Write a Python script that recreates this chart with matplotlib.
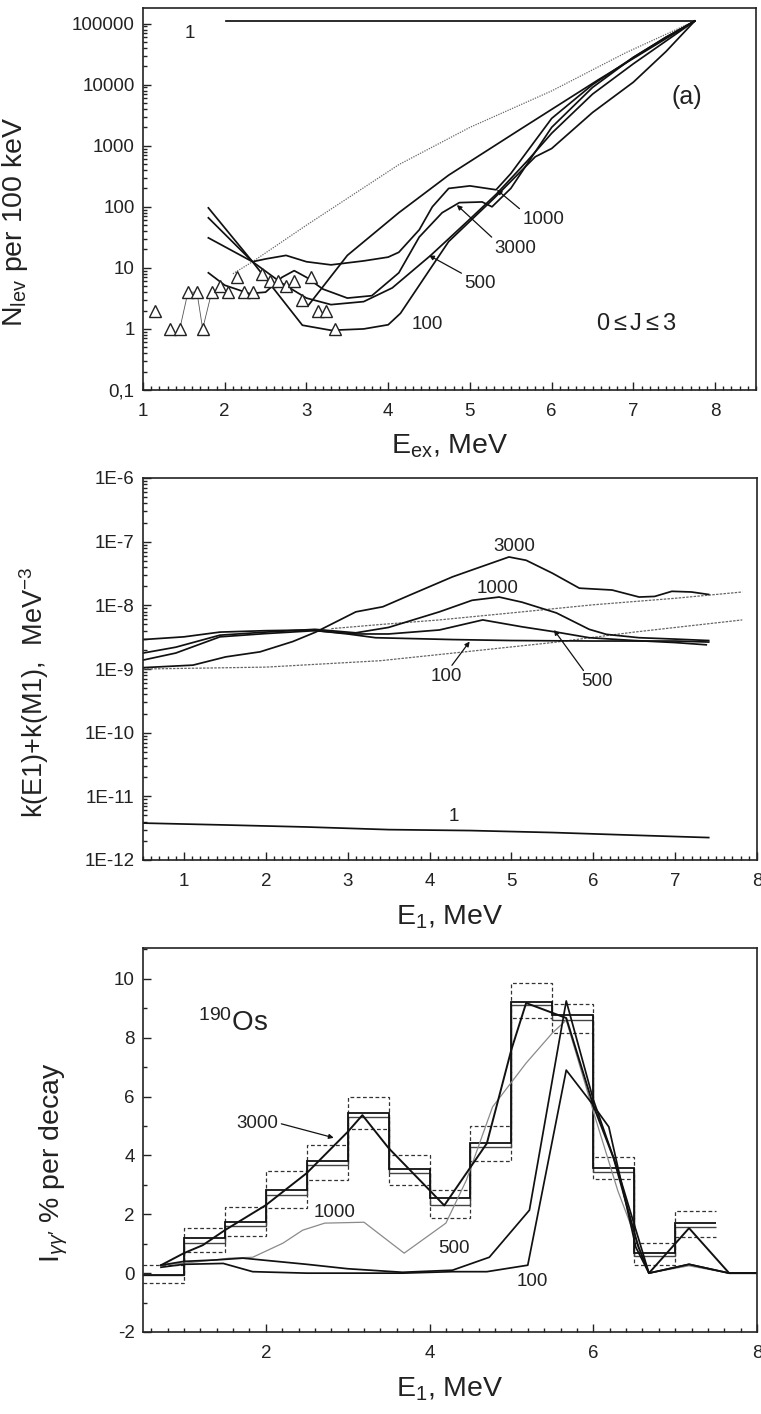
import matplotlib
matplotlib.use('Agg')
import matplotlib.pyplot as plt
from matplotlib.ticker import MultipleLocator, LogLocator, NullFormatter

plt.rcParams['font.family'] = ['Liberation Sans', 'DejaVu Sans']
plt.rcParams['mathtext.fontset'] = 'custom'
plt.rcParams['mathtext.rm'] = 'Liberation Sans'
plt.rcParams['mathtext.it'] = 'Liberation Sans:italic'
plt.rcParams['axes.unicode_minus'] = False

# ---------- panel (a): level density ----------
one_x = [2.02, 7.75]
one_y = [1.1e5, 1.1e5]

dot_x = [2.1, 2.34, 3.0, 4.13, 5.0, 6.0, 6.9, 7.75]
dot_y = [8, 12.6, 50, 490, 2000, 7900, 33000, 1.1e5]

bsfg_x = [3.02, 3.5, 4.13, 4.74, 5.6, 6.57, 7.75]
bsfg_y = [2.4, 16, 80, 330, 1800, 12000, 1.1e5]

n100_x = [1.8, 2.34, 2.95, 3.3, 3.7, 4.0, 4.15, 4.5, 4.74, 5.3, 5.8, 6.0, 6.5, 7.0, 7.4, 7.75]
n100_y = [96, 12.6, 1.15, 0.95, 1.0, 1.17, 1.8, 9, 27, 140, 660, 900, 3500, 11000, 35000, 1.1e5]

n500_x = [1.8, 2.34, 2.7, 3.0, 3.3, 3.7, 4.05, 4.52, 5.0, 5.32, 5.7, 6.0, 6.5, 7.0, 7.4, 7.75]
n500_y = [66, 12.6, 5.6, 3.2, 2.5, 2.8, 4.7, 16, 63, 160, 560, 1600, 7000, 22000, 52000, 1.1e5]

n1000_x = [1.8, 2.34, 2.5, 2.75, 3.0, 3.3, 3.7, 4.0, 4.13, 4.38, 4.54, 4.74, 5.0, 5.32, 5.5,
           6.0, 6.5, 7.0, 7.4, 7.75]
n1000_y = [31, 12.6, 14, 16, 12.6, 11.2, 13, 15, 18, 42, 100, 200, 220, 190, 350,
           2800, 10000, 28000, 60000, 1.1e5]

n3000_x = [1.8, 2.0, 2.3, 2.5, 2.7, 2.85, 3.0, 3.2, 3.5, 3.8, 4.13, 4.38, 4.66, 4.87, 5.15,
           5.27, 5.5, 6.0, 6.5, 7.0, 7.4, 7.75]
n3000_y = [8.3, 5.2, 3.8, 4, 7, 9, 7, 4.5, 3.2, 3.5, 8.3, 32, 80, 117, 120,
           100, 200, 2000, 9000, 28000, 60000, 1.1e5]

tri_x = [1.15, 1.33, 1.45, 1.55, 1.66, 1.73, 1.84, 1.94, 2.04, 2.15, 2.24, 2.34, 2.45, 2.55,
         2.65, 2.75, 2.85, 2.95, 3.06, 3.14, 3.24, 3.35]
tri_y = [2, 1, 1, 4, 4, 1, 4, 5, 4, 7, 4, 4, 8, 6, 6, 5, 6, 3, 7, 2, 2, 1]

# ---------- panel (b): strength functions ----------
k1_x = [0.5, 1.5, 2.5, 3.5, 4.5, 5.5, 6.5, 7.41]
k1_y = [3.8e-12, 3.55e-12, 3.3e-12, 3.0e-12, 2.9e-12, 2.7e-12, 2.45e-12, 2.25e-12]

kdl_x = [0.5, 2.0, 3.4, 4.5, 5.5, 6.5, 7.82]
kdl_y = [1.0e-9, 1.07e-9, 1.35e-9, 1.9e-9, 2.6e-9, 3.8e-9, 5.9e-9]

kdh_x = [2.8, 3.4, 4.12, 5.0, 6.0, 7.0, 7.82]
kdh_y = [4.3e-9, 5.0e-9, 5.9e-9, 7.6e-9, 1.02e-8, 1.29e-8, 1.62e-8]

k100_x = [0.5, 1.0, 1.44, 2.0, 2.54, 3.0, 3.34, 4.28, 5.0, 6.0, 7.0, 7.41]
k100_y = [2.9e-9, 3.2e-9, 3.8e-9, 4.0e-9, 4.1e-9, 3.55e-9, 3.1e-9, 2.9e-9, 2.8e-9, 2.75e-9,
          2.75e-9, 2.65e-9]

k500_x = [0.5, 0.9, 1.44, 2.0, 2.6, 3.1, 3.5, 4.12, 4.65, 5.13, 5.55, 5.95, 6.5, 7.0, 7.38]
k500_y = [1.38e-9, 1.78e-9, 3.2e-9, 3.6e-9, 4.0e-9, 3.55e-9, 3.55e-9, 4.1e-9, 5.9e-9, 4.6e-9,
          3.8e-9, 3.1e-9, 2.8e-9, 2.6e-9, 2.4e-9]

k1000_x = [0.5, 0.9, 1.44, 2.0, 2.6, 3.1, 3.5, 4.12, 4.52, 4.85, 5.13, 5.55, 5.95, 6.16, 6.56,
           7.0, 7.41]
k1000_y = [1.78e-9, 2.2e-9, 3.4e-9, 3.8e-9, 4.2e-9, 3.7e-9, 4.5e-9, 7.9e-9, 1.2e-8, 1.35e-8,
           1.12e-8, 7.6e-9, 4.2e-9, 3.5e-9, 3.1e-9, 2.95e-9, 2.8e-9]

k3000_x = [0.5, 1.11, 1.51, 1.93, 2.33, 2.61, 3.1, 3.43, 3.76, 4.28, 4.52, 4.97, 5.18, 5.5,
           5.83, 6.23, 6.56, 6.75, 6.96, 7.2, 7.41]
k3000_y = [1.05e-9, 1.15e-9, 1.55e-9, 1.86e-9, 2.7e-9, 3.8e-9, 7.9e-9, 9.5e-9, 1.45e-8, 2.8e-8,
           3.6e-8, 5.75e-8, 5.1e-8, 3.2e-8, 1.86e-8, 1.74e-8, 1.35e-8, 1.38e-8, 1.66e-8,
           1.62e-8, 1.48e-8]

# ---------- panel (c): two-step cascade intensities ----------
bin_edges = [0.5, 1.0, 1.5, 2.0, 2.5, 3.0, 3.5, 4.0, 4.5, 5.0, 5.5, 6.0, 6.5, 7.0, 7.5]
exp_val = [-0.05, 1.18, 1.75, 2.82, 3.81, 5.43, 3.54, 2.54, 4.41, 9.23, 8.77, 3.57, 0.67, 1.72]
exp_val2 = [-0.05, 1.04, 1.6, 2.65, 3.66, 5.3, 3.42, 2.32, 4.28, 9.1, 8.6, 3.45, 0.57, 1.58]
exp_hi = [0.27, 1.52, 2.26, 3.47, 4.35, 6.0, 4.01, 2.82, 5.0, 9.85, 9.15, 3.96, 1.02, 2.1]
exp_lo = [-0.34, 0.72, 1.27, 2.2, 3.16, 4.89, 3.0, 1.86, 3.82, 8.68, 8.17, 3.2, 0.27, 1.23]

i3000_x = [0.72, 1.0, 1.23, 1.5, 2.0, 2.5, 3.0, 3.18, 3.5, 4.0, 4.18, 4.5, 4.7, 5.0, 5.18,
           5.67, 6.0, 6.25, 6.55, 6.68, 7.17, 7.66, 8.0]
i3000_y = [0.27, 0.68, 0.95, 1.46, 2.31, 3.4, 4.8, 5.37, 4.25, 2.82, 2.3, 3.6, 4.41, 7.6, 9.18,
           8.67, 5.7, 3.9, 0.9, 0.0, 1.53, 0.0, 0.0]

i1000_x = [0.72, 1.11, 1.56, 1.84, 2.21, 2.45, 2.72, 3.2, 3.69, 4.2, 4.45, 4.77, 5.18, 5.5,
           5.67, 6.0, 6.3, 6.68, 7.17, 7.66, 8.0]
i1000_y = [0.27, 0.37, 0.51, 0.54, 1.02, 1.46, 1.7, 1.73, 0.68, 1.7, 3.16, 5.65, 7.14, 8.16,
           8.6, 5.5, 2.8, 0.0, 0.25, 0.0, 0.0]

i500_x = [0.72, 1.0, 1.4, 1.72, 2.5, 3.0, 3.67, 4.28, 4.73, 5.22, 5.67, 6.0, 6.3, 6.68, 7.17,
          7.66, 8.0]
i500_y = [0.27, 0.4, 0.45, 0.51, 0.3, 0.15, 0.03, 0.1, 0.54, 2.14, 9.25, 5.9, 3.5, 0.0, 0.3,
          0.0, 0.0]

i100_x = [0.72, 1.0, 1.48, 1.84, 2.5, 3.67, 4.28, 4.7, 5.2, 5.67, 5.98, 6.19, 6.52, 6.68, 7.17,
          7.66, 8.0]
i100_y = [0.2, 0.3, 0.33, 0.05, 0.0, 0.0, 0.05, 0.05, 0.27, 6.9, 5.78, 4.97, 0.88, 0.0, 0.3,
          0.0, 0.0]

W, H = 761, 1414
fig = plt.figure(figsize=(W / 100, H / 100), dpi=100)


def box(l, t, r, b):
    return [l / W, 1 - b / H, (r - l) / W, (b - t) / H]


def style(ax):
    for s in ax.spines.values():
        s.set_linewidth(1.2)
        s.set_color('#222222')
    ax.tick_params(which='both', direction='in', top=False, right=False,
                   labelsize=13.5, width=1.0, color='#222222', labelcolor='#222222')
    ax.tick_params(which='major', length=6)
    ax.tick_params(axis='y', which='major', pad=6)
    ax.tick_params(axis='x', which='major', pad=9)
    ax.tick_params(which='minor', length=3)


arr = dict(arrowstyle='-|>', lw=0.9, color='#111111', mutation_scale=7, shrinkA=0, shrinkB=0)
lab = dict(fontsize=13.5, color='#222222')
LW = 1.25

# ---- (a) ----
ax1 = fig.add_axes(box(143, 8, 756, 390))
style(ax1)
ax1.set_yscale('log')
ax1.set_xlim(1, 8.5)
ax1.set_ylim(0.1, 1.8e5)
ax1.plot(one_x, one_y, color='#111111', lw=LW)
ax1.plot(dot_x, dot_y, color='#666666', lw=0.9, ls=(0, (1, 1)))
ax1.plot(bsfg_x, bsfg_y, color='#111111', lw=LW)
for xs, ys in [(n100_x, n100_y), (n500_x, n500_y), (n1000_x, n1000_y), (n3000_x, n3000_y)]:
    ax1.plot(xs, ys, color='#111111', lw=LW)
ax1.plot(tri_x[2:7], tri_y[2:7], color='#555555', lw=0.6)
ax1.plot(tri_x, tri_y, ls='none', marker='^', ms=9, mfc='white', mec='#222222', mew=1.0)
ax1.set_yticks([0.1, 1, 10, 100, 1000, 10000, 100000],
               ['0,1', '1', '10', '100', '1000', '10000', '100000'])
ax1.yaxis.set_minor_locator(LogLocator(base=10, subs=range(2, 10), numticks=20))
ax1.yaxis.set_minor_formatter(NullFormatter())
ax1.set_xticks(range(1, 9))
ax1.xaxis.set_minor_locator(MultipleLocator(0.1))
ax1.set_xlabel(r'E$_{\mathrm{ex}}$, MeV', fontsize=20.5, color='#222222')
ax1.xaxis.set_label_coords(0.5, -0.11)
ax1.set_ylabel(r'N$_{\mathrm{lev}}$ per 100 keV', fontsize=20.5, color='#222222')
ax1.yaxis.set_label_coords(-0.185, 0.44)
ax1.text(1.57, 7e4, '1', ha='center', va='center', **lab)
ax1.text(7.65, 6300, '(a)', ha='center', va='center', fontsize=18, color='#222222')
ax1.text(7.04, 1.2, r'0$\leq$J$\leq$3', ha='center', va='center', fontsize=17, color='#222222')
ax1.text(4.48, 1.2, '100', ha='center', va='center', **lab)
ax1.annotate('1000', xy=(5.33, 190), xytext=(5.64, 62), ha='left', va='center',
             arrowprops=dict(arr, relpos=(0, 1)), **lab)
ax1.annotate('3000', xy=(4.84, 107), xytext=(5.3, 21), ha='left', va='center',
             arrowprops=dict(arr, relpos=(0, 1)), **lab)
ax1.annotate('500', xy=(4.5, 16), xytext=(4.93, 5.6), ha='left', va='center',
             arrowprops=dict(arr, relpos=(0, 1)), **lab)

# ---- (b) ----
ax2 = fig.add_axes(box(143, 478, 757, 860))
style(ax2)
ax2.set_yscale('log')
ax2.set_xlim(0.5, 8)
ax2.set_ylim(1e-12, 1e-6)
ax2.plot(k1_x, k1_y, color='#111111', lw=LW)
ax2.plot(kdl_x, kdl_y, color='#666666', lw=0.9, ls=(0, (2, 1)))
ax2.plot(kdh_x, kdh_y, color='#666666', lw=0.9, ls=(0, (2, 1)))
for xs, ys in [(k100_x, k100_y), (k500_x, k500_y), (k1000_x, k1000_y), (k3000_x, k3000_y)]:
    ax2.plot(xs, ys, color='#111111', lw=LW)
ax2.set_yticks([1e-12, 1e-11, 1e-10, 1e-9, 1e-8, 1e-7, 1e-6],
               ['1E-12', '1E-11', '1E-10', '1E-9', '1E-8', '1E-7', '1E-6'])
ax2.yaxis.set_minor_locator(LogLocator(base=10, subs=range(2, 10), numticks=20))
ax2.yaxis.set_minor_formatter(NullFormatter())
ax2.set_xticks(range(1, 9))
ax2.xaxis.set_minor_locator(MultipleLocator(0.1))
ax2.set_xlabel(r'E$_1$, MeV', fontsize=20.5, color='#222222')
ax2.xaxis.set_label_coords(0.5, -0.115)
ax2.set_ylabel(r'k(E1)+k(M1),  MeV$^{-3}$', fontsize=19.5, color='#222222')
ax2.yaxis.set_label_coords(-0.15, 0.44)
ax2.text(4.3, 4.8e-12, '1', ha='center', va='center', **lab)
ax2.text(5.04, 8.3e-8, '3000', ha='center', va='center', **lab)
ax2.text(4.83, 1.85e-8, '1000', ha='center', va='center', **lab)
ax2.annotate('100', xy=(4.49, 2.7e-9), xytext=(4.21, 7.6e-10), ha='center', va='center',
             arrowprops=dict(arr, relpos=(0.6, 1)), **lab)
ax2.annotate('500', xy=(5.52, 4.1e-9), xytext=(6.04, 6.3e-10), ha='center', va='center',
             arrowprops=dict(arr, relpos=(0.15, 1)), **lab)

# ---- (c) ----
ax3 = fig.add_axes(box(143, 948, 757, 1332))
style(ax3)
ax3.set_xlim(0.5, 8)
ax3.set_ylim(-2, 11.05)
ax3.stairs(exp_hi, bin_edges, color='#333333', lw=0.9, ls=(0, (3, 2)), baseline=None)
ax3.stairs(exp_lo, bin_edges, color='#333333', lw=0.9, ls=(0, (3, 2)), baseline=None)
ax3.stairs(exp_val2, bin_edges, color='#444444', lw=1.0, baseline=None)
ax3.stairs(exp_val, bin_edges, color='#111111', lw=1.3, baseline=None)
ax3.plot(i1000_x, i1000_y, color='#8a8a8a', lw=0.9)
ax3.plot(i100_x, i100_y, color='#111111', lw=LW)
ax3.plot(i500_x, i500_y, color='#111111', lw=LW)
ax3.plot(i3000_x, i3000_y, color='#111111', lw=1.4)
ax3.set_xticks([2, 4, 6, 8])
ax3.xaxis.set_minor_locator(MultipleLocator(0.2))
ax3.set_yticks(range(-2, 11, 2))
ax3.yaxis.set_minor_locator(MultipleLocator(1))
ax3.set_xlabel(r'E$_1$, MeV', fontsize=20.5, color='#222222')
ax3.xaxis.set_label_coords(0.5, -0.112)
ax3.set_ylabel(r"I$_{\gamma\gamma\prime}$ % per decay", fontsize=20.5, color='#222222')
ax3.yaxis.set_label_coords(-0.119, 0.44)
ax3.text(1.6, 8.5, r'$^{190}$Os', ha='center', va='center', fontsize=20, color='#222222')
ax3.annotate('3000', xy=(2.83, 4.6), xytext=(1.9, 5.1), ha='center', va='center',
             arrowprops=dict(arr, relpos=(1, 0.5)), **lab)
ax3.text(2.84, 2.07, '1000', ha='center', va='center', **lab)
ax3.text(4.3, 0.85, '500', ha='center', va='center', **lab)
ax3.text(5.26, -0.3, '100', ha='center', va='center', **lab)

fig.savefig('out.png', dpi=100)
